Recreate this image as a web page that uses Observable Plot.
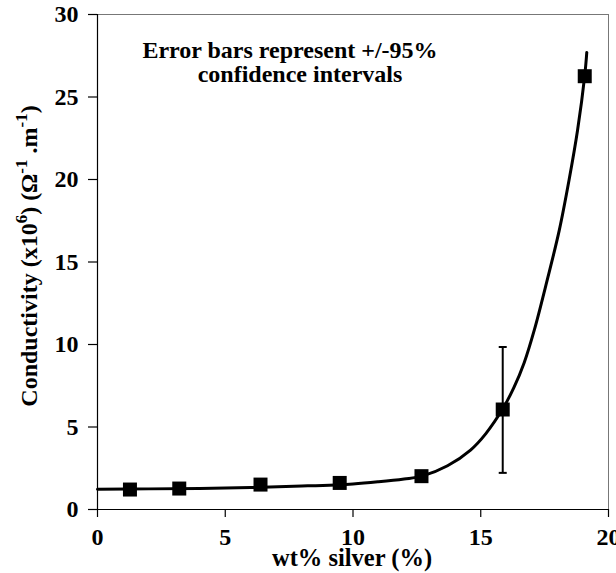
<!DOCTYPE html>
<html>
<head>
<meta charset="utf-8">
<script src="https://cdn.jsdelivr.net/npm/d3@7"></script>
<script src="https://cdn.jsdelivr.net/npm/@observablehq/plot@0.6"></script>
<style>
  html, body { margin: 0; padding: 0; background: #fff; }
</style>
</head>
<body>
<div id="chart"></div>
<script>
// Measured points (wt% silver, conductivity x10^6 S/m)
const wtSilver = [1.27, 3.2, 6.38, 9.48, 12.68, 15.86, 19.07];
const conductivity = [1.21, 1.27, 1.51, 1.61, 2.02, 6.06, 26.26];

// 95% confidence interval (only visible bar)
const errX = [15.86];
const errLow = [2.22];
const errHigh = [9.85];

// Fitted curve
const fitX = [0, 2, 4, 6, 8, 10, 11, 12, 12.7, 13.7, 14.6, 15.2, 15.86, 16.3, 16.7, 17.1, 17.6, 18.07, 18.46, 18.79, 19.07, 19.15];
const fitY = [1.23, 1.25, 1.28, 1.33, 1.42, 1.55, 1.68, 1.85, 2.02, 2.65, 3.6, 4.6, 6.1, 7.4, 8.9, 10.9, 13.9, 16.9, 20.0, 23.0, 26.3, 27.7];

const xTicks = [0, 5, 10, 15, 20];
const yTicks = [0, 5, 10, 15, 20, 25, 30];
const xLabel = "wt% silver (%)";
const noteLine1 = "Error bars represent +/-95%";
const noteLine2 = "confidence intervals";

const points = wtSilver.map((x, i) => ({x, y: conductivity[i]}));
const fit = fitX.map((x, i) => ({x, y: fitY[i]}));
const errs = errX.map((x, i) => ({x, lo: errLow[i], hi: errHigh[i]}));

const capSymbol = {
  draw(context) {
    const w = 4;
    context.moveTo(-w, 0);
    context.lineTo(w, 0);
  }
};

const chart = Plot.plot({
  width: 616,
  height: 573,
  marginLeft: 97,
  marginRight: 8,
  marginTop: 14,
  marginBottom: 64,
  style: {
    fontFamily: "'Liberation Serif', 'Times New Roman', serif",
    fontWeight: "bold",
    fontSize: "24px",
    color: "#000",
    background: "#fff",
    overflow: "visible"
  },
  x: {domain: [0, 20], label: null},
  y: {domain: [0, 30], label: null},
  marks: [
    Plot.ruleY([30], {stroke: "#777", strokeWidth: 1}),
    Plot.ruleX([20], {stroke: "#777", strokeWidth: 1}),
    Plot.axisY({ticks: yTicks, tickSize: 9, tickPadding: 10, stroke: "#000", strokeWidth: 1.2, label: null, fontSize: 24}),
    Plot.axisX({ticks: xTicks, tickSize: 8, tickPadding: 10, stroke: "#000", strokeWidth: 1.2, label: null, fontSize: 24}),
    Plot.ruleX([0], {stroke: "#000", strokeWidth: 1.2}),
    Plot.ruleY([0], {stroke: "#000", strokeWidth: 1.2}),
    Plot.line(fit, {x: "x", y: "y", curve: "catmull-rom", stroke: "#000", strokeWidth: 3}),
    Plot.ruleX(errs, {x: "x", y1: "lo", y2: "hi", stroke: "#000", strokeWidth: 2}),
    Plot.dot(errs, {x: "x", y: "lo", symbol: capSymbol, r: 4, fill: "none", stroke: "#000", strokeWidth: 2}),
    Plot.dot(errs, {x: "x", y: "hi", symbol: capSymbol, r: 4, fill: "none", stroke: "#000", strokeWidth: 2}),
    Plot.dot(points, {x: "x", y: "y", symbol: "square", r: 7.9, fill: "#000", stroke: "none"}),
    Plot.text([noteLine1], {frameAnchor: "top", dx: -63, dy: 26, text: d => d, fontSize: 24, fill: "#000", textAnchor: "middle"}),
    Plot.text([noteLine2], {frameAnchor: "top", dx: -53, dy: 50, text: d => d, fontSize: 24, fill: "#000", textAnchor: "middle"}),
    Plot.text([xLabel], {frameAnchor: "bottom", dx: -1, dy: 56, text: d => d, fontSize: 24.5, fill: "#000", lineAnchor: "bottom"})
  ]
});

document.getElementById("chart").appendChild(chart);

// Y-axis title with superscripts
const svg = d3.select(chart);
const yt = svg.append("text")
  .attr("transform", "translate(37,256) rotate(-90)")
  .attr("text-anchor", "middle")
  .attr("fill", "#000")
  .style("font-size", "24px")
  .style("font-weight", "bold");
const parts = [
  ["Conductivity (x10", 0],
  ["6", 1],
  [") (\u03A9", 0],
  ["-1", 1],
  [" .m", 0],
  ["-1", 1],
  [")", 0]
];
let shifted = false;
for (const [t, sup] of parts) {
  const ts = yt.append("tspan").text(t);
  if (sup) {
    ts.attr("dy", shifted ? 0 : -10).style("font-size", "17px");
    shifted = true;
  } else {
    if (shifted) ts.attr("dy", 10);
    shifted = false;
  }
}
</script>
</body>
</html>
